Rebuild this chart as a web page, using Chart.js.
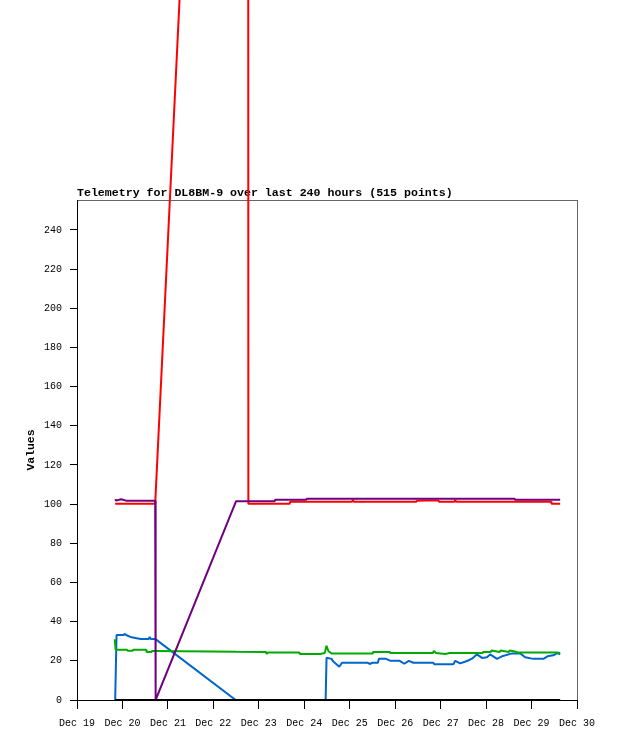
<!DOCTYPE html>
<html>
<head>
<meta charset="utf-8">
<title>Telemetry for DL8BM-9</title>
<script src="https://cdn.jsdelivr.net/npm/chart.js@4/dist/chart.umd.min.js"></script>
<style>
    body { margin: 0; background: #fff; }
    canvas { display: block; }
</style>
</head>
<body>
<canvas id="telemetryChart" width="618" height="741"></canvas>
<script>
// Eixo x em dias desde Dec 19 00:00
const xTickLabels = ['Dec 19', 'Dec 20', 'Dec 21', 'Dec 22', 'Dec 23', 'Dec 24',
                     'Dec 25', 'Dec 26', 'Dec 27', 'Dec 28', 'Dec 29', 'Dec 30'];
const yTicks = [0, 20, 40, 60, 80, 100, 120, 140, 160, 180, 200, 220, 240];

// Série vermelha
const redT = [0.84, 1.72, 3.76, 3.77, 4.68, 4.69, 6.05, 6.07, 6.09, 7.46, 7.47, 7.69, 7.95, 7.96,
              8.31, 8.32, 8.34, 10.43, 10.44, 10.63];
const redV = [100.2, 100.2, 1080, 100.2, 100.2, 101.2, 101.2, 102.2, 101.2, 101.2, 101.7, 101.9, 101.9, 101.2,
              101.2, 102.2, 101.2, 101.2, 100.2, 100.2];

// Série roxa
const purpleT = [0.84, 0.86, 0.97, 1.08, 1.72, 1.73, 3.50, 4.35, 4.36, 5.04, 5.05, 9.63, 9.64, 10.63];
const purpleV = [102.5, 101.8, 102.5, 101.8, 101.8, 0, 101.5, 101.5, 102.2, 102.2, 102.7, 102.7, 102.2, 102.2];

// Série azul
const blueT = [0.84, 0.87, 1.03, 1.05, 1.08, 1.20, 1.40, 1.58, 1.60, 1.62, 1.72, 3.49, 5.47, 5.49,
               5.60, 5.64, 5.77, 5.83, 6.40, 6.44, 6.50, 6.62, 6.64, 6.80, 6.90, 7.10, 7.20, 7.30,
               7.40, 7.84, 7.86, 8.28, 8.32, 8.43, 8.58, 8.69, 8.80, 8.91, 9.02, 9.09, 9.24, 9.37,
               9.57, 9.75, 9.86, 10.04, 10.26, 10.35, 10.48, 10.57, 10.63];
const blueV = [0, 33.2, 33.2, 33.8, 33.2, 32.0, 31.2, 31.2, 32.2, 31.2, 31.2, 0, 0, 21.6,
               21.0, 19.6, 17.0, 19.0, 19.0, 18.4, 19.0, 19.0, 21.0, 21.0, 20.0, 20.0, 18.5, 20.0,
               19.0, 19.0, 18.2, 18.2, 20.0, 18.7, 19.9, 21.1, 23.3, 21.5, 21.8, 23.3, 21.0, 22.5,
               23.8, 23.8, 21.8, 21.0, 21.0, 22.3, 22.8, 24.0, 23.3];

// Série verde
const greenT = [0.83, 0.85, 1.10, 1.11, 1.23, 1.24, 1.52, 1.53, 1.64, 1.65, 1.72, 3.50, 4.16, 4.17,
                4.20, 4.89, 4.90, 5.35, 5.45, 5.49, 5.53, 5.60, 6.50, 6.51, 6.88, 6.89, 7.83, 7.85,
                7.90, 8.10, 8.20, 8.92, 8.93, 9.10, 9.12, 9.30, 9.32, 9.50, 9.52, 9.68, 9.70, 10.56, 10.63];
const greenV = [31.0, 25.7, 25.7, 25.2, 25.2, 25.7, 25.7, 24.5, 24.5, 25.0, 25.0, 24.6, 24.5, 23.5,
                24.2, 24.2, 23.5, 23.5, 24.0, 27.7, 25.0, 23.7, 23.7, 24.5, 24.5, 24.0, 24.0, 25.0,
                24.0, 23.5, 24.0, 24.0, 24.5, 24.5, 25.3, 24.5, 25.3, 24.5, 25.3, 24.5, 24.2, 24.2, 24.0];

// Série preta (zero)
const blackT = [0.84, 10.63];
const blackV = [0, 0];

const MONO = '"Liberation Mono", "DejaVu Sans Mono", monospace';

function toPoints(t, v) {
    return t.map((x, i) => ({ x: x, y: v[i] }));
}

function makeDataset(label, t, v, color, order, extra) {
    return Object.assign({
        label: label,
        data: toPoints(t, v),
        borderColor: color,
        borderWidth: 2,
        borderJoinStyle: 'bevel',
        pointRadius: 0,
        tension: 0,
        fill: false,
        order: order
    }, extra || {});
}

// Moldura cinza e título
const framePlugin = {
    id: 'frame',
    beforeDraw(chart) {
        const { ctx, chartArea: a } = chart;
        ctx.save();
        ctx.strokeStyle = '#666';
        ctx.lineWidth = 1;
        ctx.strokeRect(Math.round(a.left) + 0.5, Math.round(a.top) + 0.5,
                       Math.round(a.right - a.left), Math.round(a.bottom - a.top));
        ctx.restore();
    },
    beforeDatasetsDraw(chart) {
        const { ctx, chartArea: a } = chart;
        ctx.save();
        ctx.font = 'bold 11.6px ' + MONO;
        ctx.fillStyle = '#000';
        ctx.textAlign = 'left';
        ctx.textBaseline = 'alphabetic';
        ctx.fillText('Telemetry for DL8BM-9 over last 240 hours (515 points)', a.left, a.top - 4);
        ctx.restore();
    }
};

const ctx = document.getElementById('telemetryChart').getContext('2d');
new Chart(ctx, {
    type: 'line',
    data: {
        datasets: [
            makeDataset('black', blackT, blackV, '#000000', 1),
            makeDataset('purple', purpleT, purpleV, '#700080', 2),
            makeDataset('green', greenT, greenV, '#00aa00', 3),
            makeDataset('blue', blueT, blueV, '#0066cc', 4),
            makeDataset('red', redT, redV, '#ff0000', 5, { clip: false })
        ]
    },
    options: {
        responsive: false,
        animation: false,
        layout: { padding: { top: 200, right: 41, bottom: 0, left: 0 } },
        plugins: {
            legend: { display: false },
            tooltip: { enabled: false }
        },
        scales: {
            x: {
                type: 'linear',
                min: 0,
                max: 11,
                afterBuildTicks: function(scale) {
                    scale.ticks = xTickLabels.map((_, i) => ({ value: i }));
                },
                afterFit: function(scale) { scale.height = 41; },
                ticks: {
                    callback: v => xTickLabels[Math.round(v)],
                    font: { family: MONO, size: 10 },
                    color: '#000',
                    padding: 8,
                    maxRotation: 0,
                    autoSkip: false
                },
                grid: { drawOnChartArea: false, tickLength: 9, color: '#000' },
                border: { color: '#000', width: 1 }
            },
            y: {
                type: 'linear',
                min: 0,
                max: 255.3,
                afterBuildTicks: function(scale) {
                    scale.ticks = yTicks.map(v => ({ value: v }));
                },
                afterFit: function(scale) { scale.width = 77; },
                ticks: {
                    callback: v => String(v),
                    font: { family: MONO, size: 10 },
                    color: '#000',
                    padding: 8
                },
                grid: { drawOnChartArea: false, tickLength: 7, color: '#000' },
                border: { color: '#000', width: 1 },
                title: {
                    display: true,
                    text: 'Values',
                    font: { family: MONO, size: 11.4, weight: 'bold' },
                    color: '#000',
                    padding: { top: 24, bottom: 0 }
                }
            }
        }
    },
    plugins: [framePlugin]
});
</script>
</body>
</html>
